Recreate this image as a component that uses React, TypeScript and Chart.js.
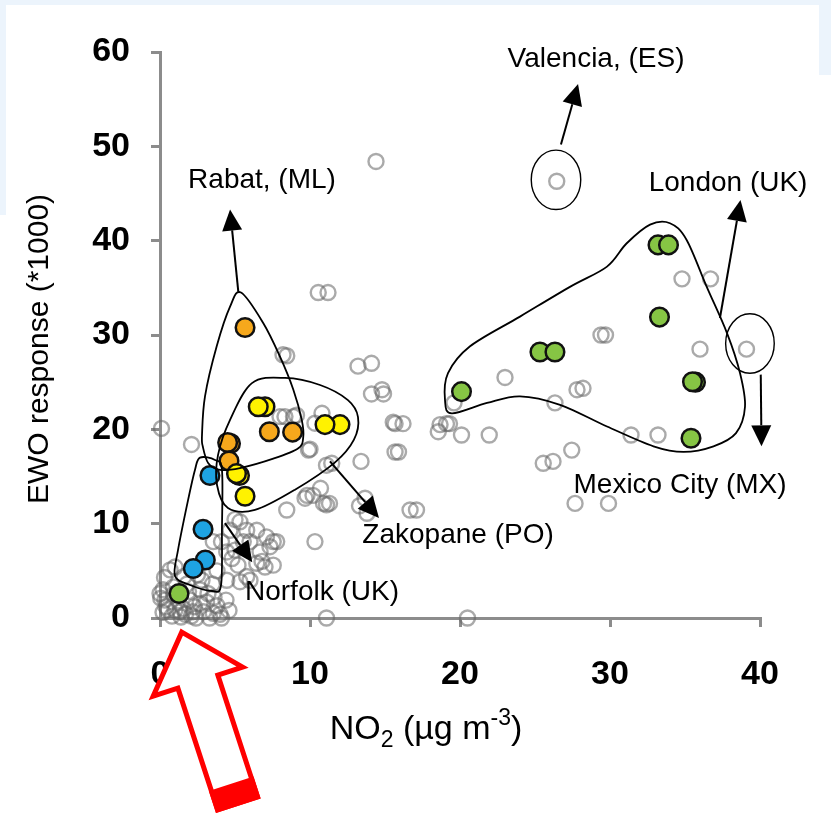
import React, { useEffect, useRef } from "react";
import { Chart, registerables } from "chart.js";
Chart.register(...registerables);

// ---------- data ----------
const xTickValues = [0, 10, 20, 30, 40];
const yTickValues = [0, 10, 20, 30, 40, 50, 60];

const grayX = [
  5.0, 5.33, 4.67, 5.78, 6.45, 3.55, 4.1, 5.55, 6.0, 4.45, 5.0, 6.67, 7.33, 7.78, 6.45, 7.0, 5.78, 6.0, 0.67, 1.0,
  0.2, 0.0, 0.05, 0.33, 2.67, 3.2, 2.0, 2.67, 3.1, 1.0, 1.33, 1.55, 2.2, 2.9, 3.55, 4.0, 0.8, 1.4, 2.1, 2.4,
  3.3, 4.1, 11.1, 20.5, 5.33, 4.45, 7.1, 7.55, 6.8, 7.55, 10.33, 8.45, 9.8, 10.2, 10.9, 11.1, 10.7, 9.67, 11.3, 13.67,
  13.8, 13.3, 16.67, 17.1, 9.9, 11.1, 11.45, 13.4, 15.67, 15.9, 10.0, 8.0, 9.1, 8.33, 8.9, 10.8, 10.33, 15.55, 15.67, 16.2,
  14.1, 14.8, 14.9, 13.2, 14.1, 8.2, 8.45, 10.55, 11.2, 14.4, 0.1, 2.1, 18.55, 19.1, 19.3, 18.67, 20.1, 21.95, 19.6, 23.0,
  26.33, 27.8, 28.2, 29.4, 29.7, 31.4, 33.2, 27.45, 26.2, 25.55, 27.67, 29.9, 36.0, 39.1, 34.8, 36.7, 26.45,
  4.8, 3.8, 1.8, 0.9, 1.2, 0.5, 3.6, 4.4, 2.5, 5.2, 1.6, 0.3,
  0.4, 0.9, 1.9, 2.3, 3.8, 4.6, 1.7, 0.2, 2.8, 3.5,
];
const grayY = [
  10.45, 10.2, 9.3, 9.3, 9.3, 8.1, 8.1, 8.1, 8.1, 7.0, 7.2, 7.0, 7.56, 8.1, 5.8, 5.4, 4.4, 4.0, 5.1, 5.4,
  3.0, 2.6, 2.1, 1.9, 3.0, 2.6, 1.9, 1.55, 1.7, 0.85, 0.67, 1.0, 0.67, 0.67, 0.5, 0.4, 0.2, 0.1, 0.2, 0.0,
  0.0, 0.0, 0.0, 0.0, 3.85, 4.0, 8.6, 8.1, 6.0, 5.6, 8.1, 11.45, 13.0, 13.0, 12.15, 12.0, 13.75, 12.7, 12.15, 12.7,
  11.1, 11.9, 11.45, 11.45, 17.8, 16.2, 16.4, 16.6, 17.6, 17.6, 17.9, 21.35, 21.5, 21.35, 21.35, 21.7, 20.65, 20.75, 20.6, 20.6,
  23.75, 24.2, 23.75, 26.7, 27.0, 27.9, 27.8, 34.5, 34.5, 48.4, 20.1, 18.4, 19.75, 20.6, 20.6, 20.5, 19.4, 19.4, 22.8, 25.5,
  22.8, 24.2, 24.35, 30.0, 30.0, 19.4, 19.4, 17.8, 16.6, 16.4, 12.15, 12.15, 28.5, 28.5, 35.95, 35.95, 46.3,
  6.3, 5.0, 3.6, 3.3, 1.8, 0.9, 2.2, 1.9, 4.6, 5.6, 4.4, 4.3,
  1.2, 2.5, 2.8, 1.2, 1.3, 0.8, 0.4, 0.6, 4.0, 3.6,
];

const greenX = [1.27, 20.1, 25.33, 26.33, 33.2, 33.9, 33.3, 35.7, 35.5, 35.4];
const greenY = [2.6, 24.0, 28.2, 28.2, 39.55, 39.55, 31.9, 25.0, 25.05, 19.05];

const blueX = [3.33, 2.87, 3.02, 2.22];
const blueY = [15.1, 9.4, 6.15, 5.25];

const orangeX = [5.67, 4.7, 4.51, 4.6, 7.29, 8.84];
const orangeY = [30.8, 18.5, 18.6, 16.65, 19.75, 19.7];

const yellowX = [7.0, 6.55, 12.0, 11.0, 5.3, 5.1, 5.67];
const yellowY = [22.4, 22.4, 20.5, 20.5, 15.1, 15.3, 12.9];

// ---------- annotations (data units) ----------
const labelTexts = ["Valencia, (ES)", "Rabat, (ML)", "London (UK)", "Mexico City (MX)", "Zakopane (PO)", "Norfolk (UK)"];
const labelX = [29.07, 6.8, 37.87, 34.67, 19.87, 10.8];
const labelY = [59.2, 46.45, 46.1, 14.1, 8.8, 2.75];

const rabatHull = [
  [5.4, 34.5], [6.89, 31.25], [8.0, 27.7], [8.89, 24.2], [9.45, 21.0], [9.55, 19.2], [9.22, 18.0],
  [7.55, 16.9], [5.33, 15.9], [4.0, 15.7], [3.22, 16.4], [2.85, 18.2], [2.8, 19.4], [3.0, 23.5],
  [3.78, 28.8], [4.67, 33.0],
];
const zakopaneHull = [
  [6.13, 24.9], [8.33, 25.45], [10.67, 24.7], [12.53, 23.1], [13.2, 21.3], [12.93, 18.9], [11.67, 16.5],
  [9.0, 13.6], [6.33, 11.45], [4.53, 11.66], [3.8, 14.1], [3.87, 17.3], [4.67, 21.0],
];
const norfolkHull = [
  [2.67, 17.0], [3.67, 16.75], [4.13, 15.7], [4.13, 9.33], [4.07, 3.5], [3.47, 2.86], [2.0, 3.5],
  [1.0, 4.45], [1.2, 7.2], [1.87, 12.5], [2.33, 15.7],
];
const londonHull = [
  [19.0, 23.1], [19.45, 21.7], [21.8, 22.8], [24.0, 23.5], [26.67, 22.6], [29.8, 20.3], [32.9, 18.2],
  [34.9, 17.6], [36.9, 18.2], [38.4, 19.6], [39.0, 22.4], [38.67, 25.95], [37.8, 30.2], [36.45, 35.1],
  [35.1, 40.1], [34.0, 41.85], [32.67, 41.7], [31.1, 39.7], [29.8, 37.25], [27.33, 35.1], [24.0, 31.95],
  [20.67, 28.8], [19.2, 25.95],
];
// ellipses: cx, cy, rx, ry (data units)
const ellipses = [
  [26.4, 46.45, 1.65, 3.15],
  [39.33, 29.1, 1.62, 3.15],
];
// arrows: tail x, tail y, tip x, tip y (data units)
const arrows = [
  [26.73, 50.2, 27.87, 56.6],
  [5.22, 34.6, 4.67, 43.3],
  [37.33, 31.8, 38.7, 44.3],
  [40.05, 25.8, 40.1, 18.2],
  [11.33, 16.6, 14.6, 10.6],
  [4.33, 10.05, 6.15, 5.9],
];
const redArrowTip = [1.45, -1.5];

const FONT = '"Liberation Sans", Arial, Helvetica, sans-serif';

function smoothClosed(ctx: CanvasRenderingContext2D, pts: number[][]) {
  const n = pts.length;
  ctx.beginPath();
  ctx.moveTo(pts[0][0], pts[0][1]);
  for (let i = 0; i < n; i++) {
    const p0 = pts[(i - 1 + n) % n];
    const p1 = pts[i];
    const p2 = pts[(i + 1) % n];
    const p3 = pts[(i + 2) % n];
    const c1x = p1[0] + (p2[0] - p0[0]) / 6;
    const c1y = p1[1] + (p2[1] - p0[1]) / 6;
    const c2x = p2[0] - (p3[0] - p1[0]) / 6;
    const c2y = p2[1] - (p3[1] - p1[1]) / 6;
    ctx.bezierCurveTo(c1x, c1y, c2x, c2y, p2[0], p2[1]);
  }
  ctx.closePath();
  ctx.stroke();
}

const bgPlugin = {
  id: "bg",
  beforeDraw(chart: any) {
    const ctx = chart.ctx as CanvasRenderingContext2D;
    ctx.save();
    ctx.fillStyle = "#ffffff";
    ctx.fillRect(0, 0, chart.width, chart.height);
    ctx.fillStyle = "#ecf4fc";
    ctx.fillRect(0, 0, chart.width, 5);
    ctx.fillRect(0, 0, 6, 215);
    ctx.fillRect(chart.width - 12, 0, 12, 75);
    ctx.restore();
  },
};

const annotPlugin = {
  id: "annot",
  afterDraw(chart: any) {
    const ctx = chart.ctx as CanvasRenderingContext2D;
    const xs = chart.scales.x;
    const ys = chart.scales.y;
    const px = (v: number) => xs.getPixelForValue(v);
    const py = (v: number) => ys.getPixelForValue(v);
    const ca = chart.chartArea;
    ctx.save();

    // hulls
    ctx.strokeStyle = "#000";
    ctx.lineWidth = 1.8;
    ctx.lineJoin = "round";
    for (const h of [rabatHull, zakopaneHull, norfolkHull, londonHull]) {
      smoothClosed(ctx, h.map((p) => [px(p[0]), py(p[1])]));
    }
    // ellipses
    ctx.lineWidth = 1.4;
    for (const e of ellipses) {
      const cx = px(e[0]);
      const cy = py(e[1]);
      const rx = Math.abs(px(e[0] + e[2]) - cx);
      const ry = Math.abs(py(e[1] + e[3]) - cy);
      ctx.beginPath();
      ctx.ellipse(cx, cy, rx, ry, 0, 0, Math.PI * 2);
      ctx.stroke();
    }
    // arrows
    ctx.fillStyle = "#000";
    ctx.lineWidth = 2;
    for (const a of arrows) {
      const x0 = px(a[0]), y0 = py(a[1]), x1 = px(a[2]), y1 = py(a[3]);
      const dx = x1 - x0, dy = y1 - y0;
      const L = Math.hypot(dx, dy);
      const ux = dx / L, uy = dy / L;
      const hl = 21, hw = 10;
      const bx = x1 - ux * hl, by = y1 - uy * hl;
      ctx.beginPath();
      ctx.moveTo(x0, y0);
      ctx.lineTo(bx, by);
      ctx.stroke();
      ctx.beginPath();
      ctx.moveTo(x1, y1);
      ctx.lineTo(bx - uy * hw, by + ux * hw);
      ctx.lineTo(bx + uy * hw, by - ux * hw);
      ctx.closePath();
      ctx.fill();
    }
    // labels
    ctx.font = `28px ${FONT}`;
    ctx.textAlign = "center";
    ctx.textBaseline = "middle";
    ctx.fillStyle = "#000";
    labelTexts.forEach((t, i) => ctx.fillText(t, px(labelX[i]), py(labelY[i])));

    // red outline arrow
    const tx = px(redArrowTip[0]);
    const ty = py(redArrowTip[1]);
    const b = [0.31, 0.951];
    const p = [0.951, -0.31];
    const P = (u: number, v: number) => [tx + u * b[0] + v * p[0], ty + u * b[1] + v * p[1]];
    const outline = [P(0, 0), P(52, 47), P(52, 21), P(180, 21), P(180, -21), P(52, -21), P(52, -47)];
    ctx.beginPath();
    outline.forEach((q, i) => (i === 0 ? ctx.moveTo(q[0], q[1]) : ctx.lineTo(q[0], q[1])));
    ctx.closePath();
    ctx.fillStyle = "#ffffff";
    ctx.fill();
    ctx.strokeStyle = "#ff0000";
    ctx.lineWidth = 5;
    ctx.lineJoin = "miter";
    ctx.stroke();
    const cap = [P(162, 21), P(180, 21), P(180, -21), P(162, -21)];
    ctx.beginPath();
    cap.forEach((q, i) => (i === 0 ? ctx.moveTo(q[0], q[1]) : ctx.lineTo(q[0], q[1])));
    ctx.closePath();
    ctx.fillStyle = "#ff0000";
    ctx.fill();
    ctx.stroke();

    // axis titles
    ctx.fillStyle = "#000";
    ctx.save();
    ctx.translate(ca.left - 120, (ca.top + ca.bottom) / 2 + 14);
    ctx.rotate(-Math.PI / 2);
    ctx.font = `30px ${FONT}`;
    ctx.textAlign = "center";
    ctx.textBaseline = "middle";
    ctx.fillText("EWO response (*1000)", 0, 0);
    ctx.restore();

    const big = `34px ${FONT}`;
    const small = `23px ${FONT}`;
    const parts: [string, string, number][] = [
      ["NO", big, 0],
      ["2", small, 8],
      [" (µg m", big, 0],
      ["-3", small, -14],
      [")", big, 0],
    ];
    ctx.textAlign = "left";
    ctx.textBaseline = "alphabetic";
    let total = 0;
    for (const [t, f] of parts) {
      ctx.font = f;
      total += ctx.measureText(t).width;
    }
    let cx = ca.left + 266 - total / 2;
    const base = ca.bottom + 121;
    for (const [t, f, off] of parts) {
      ctx.font = f;
      ctx.fillText(t, cx, base + off);
      cx += ctx.measureText(t).width;
    }
    ctx.restore();
  },
};

function pts(xs: number[], ys: number[]) {
  return xs.map((x, i) => ({ x, y: ys[i] }));
}

export default function App() {
  const ref = useRef<HTMLCanvasElement>(null);
  useEffect(() => {
    document.body.style.margin = "0";
    const canvas = ref.current!;
    const tickFont = { family: FONT, size: 34, weight: "bold" as const };
    const axisColor = "#8c8c8c";
    const filled = (color: string) => ({
      backgroundColor: color,
      borderColor: "#111111",
      borderWidth: 2.5,
      pointRadius: 9.3,
      pointHoverRadius: 9.3,
      clip: false as const,
    });
    const chart = new Chart(canvas, {
      type: "scatter",
      data: {
        datasets: [
          { label: "Yellow", data: pts(yellowX, yellowY), order: 1, ...filled("#fff200") },
          { label: "Orange", data: pts(orangeX, orangeY), order: 2, ...filled("#f6a81c") },
          { label: "Blue", data: pts(blueX, blueY), order: 3, ...filled("#1ea3e2") },
          { label: "Green", data: pts(greenX, greenY), order: 4, ...filled("#86c544") },
          {
            label: "Other cities",
            data: pts(grayX, grayY),
            order: 5,
            backgroundColor: "rgba(0,0,0,0)",
            borderColor: "rgba(100,100,100,0.55)",
            borderWidth: 2.4,
            pointRadius: 7.5,
            pointHoverRadius: 7.5,
            clip: false as const,
          },
        ],
      },
      options: {
        animation: false,
        responsive: false,
        maintainAspectRatio: false,
        events: [],
        layout: { padding: { top: 52, right: 71, left: 0, bottom: 0 } },
        plugins: { legend: { display: false }, tooltip: { enabled: false }, title: { display: false } },
        scales: {
          x: {
            type: "linear",
            min: 0,
            max: 40,
            afterBuildTicks: (s: any) => {
              s.ticks = xTickValues.map((v) => ({ value: v }));
            },
            afterFit: (s: any) => {
              s.height = 199;
            },
            ticks: { font: tickFont, color: "#000", padding: 27, maxRotation: 0 },
            grid: { drawOnChartArea: false, drawTicks: true, tickLength: 9, color: axisColor, lineWidth: 3 },
            border: { display: true, color: axisColor, width: 3 },
          },
          y: {
            type: "linear",
            min: 0,
            max: 60,
            afterBuildTicks: (s: any) => {
              s.ticks = yTickValues.map((v) => ({ value: v }));
            },
            afterFit: (s: any) => {
              s.width = 160;
            },
            ticks: { font: tickFont, color: "#000", padding: 21 },
            grid: { drawOnChartArea: false, drawTicks: true, tickLength: 9, color: axisColor, lineWidth: 3 },
            border: { display: true, color: axisColor, width: 3 },
          },
        },
      },
      plugins: [bgPlugin, annotPlugin],
    } as any);
    return () => chart.destroy();
  }, []);
  return (
    <div style={{ position: "absolute", left: 0, top: 0, width: 831, height: 817 }}>
      <canvas ref={ref} width={831} height={817} style={{ display: "block", width: 831, height: 817 }} />
    </div>
  );
}
